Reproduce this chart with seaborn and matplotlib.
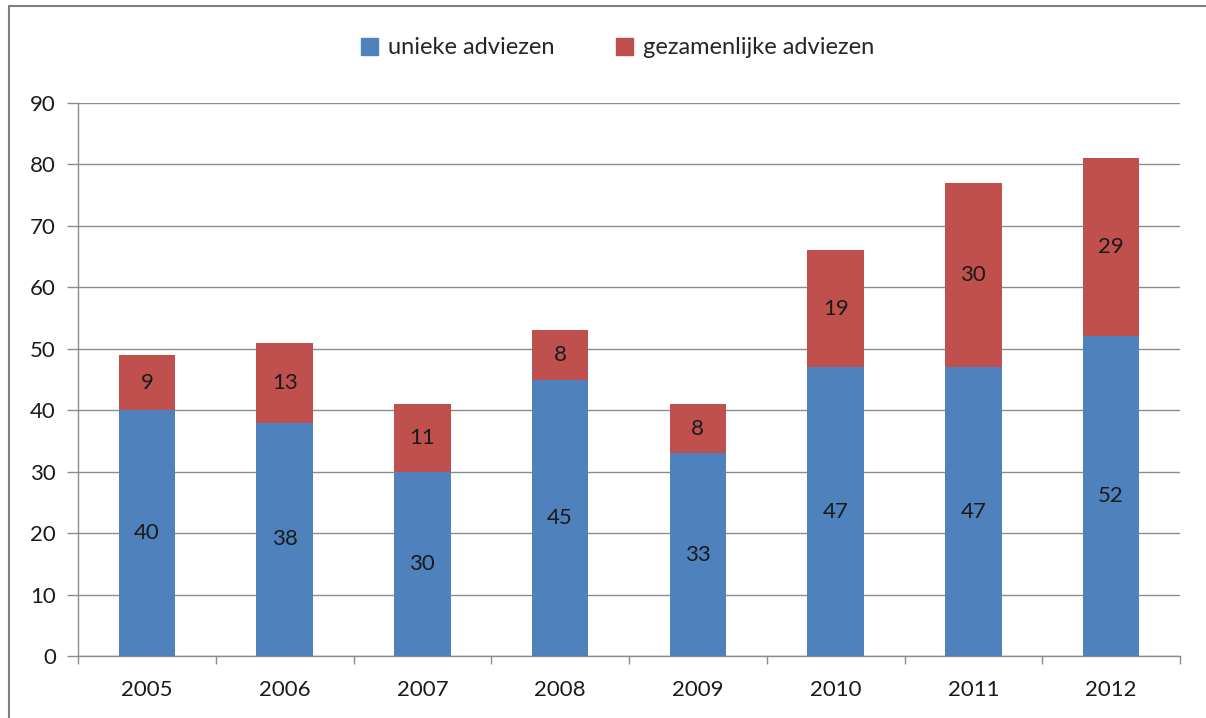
import matplotlib
matplotlib.use("Agg")
import matplotlib.pyplot as plt
import seaborn as sns
import numpy as np
from matplotlib.lines import Line2D
from matplotlib.patches import Patch

years = ["2005", "2006", "2007", "2008", "2009", "2010", "2011", "2012"]
unieke = [40, 38, 30, 45, 33, 47, 47, 52]
gezamenlijke = [9, 13, 11, 8, 8, 19, 30, 29]
series_names = ["unieke adviezen", "gezamenlijke adviezen"]
yticks = [0, 10, 20, 30, 40, 50, 60, 70, 80, 90]

sns.set_theme(style="white")
plt.rcParams['font.family'] = ['Lato', 'DejaVu Sans']

blue = "#4F81BD"
red = "#C0504D"
grid_c = "#8C8C8C"

fig = plt.figure(figsize=(12.06, 7.18), dpi=100)
ax = fig.add_axes([78/1206, 1-656/718, (1180-78)/1206, (656-103)/718])

totals = [u + g for u, g in zip(unieke, gezamenlijke)]
sns.barplot(x=years, y=totals, color=red, saturation=1, width=0.41, ax=ax, zorder=3, linewidth=0)
sns.barplot(x=years, y=unieke, color=blue, saturation=1, width=0.41, ax=ax, zorder=4, linewidth=0)

for i, (u, g) in enumerate(zip(unieke, gezamenlijke)):
    ax.text(i, u / 2, str(u), ha="center", va="center", fontsize=16, color="#1a1a1a", zorder=5)
    ax.text(i, u + g / 2, str(g), ha="center", va="center", fontsize=16, color="#1a1a1a", zorder=5)

ax.set_ylim(0, 90)
ax.set_xlim(-0.5, len(years) - 0.5)
ax.set_yticks(yticks)
ax.set_yticklabels([str(t) for t in yticks], fontsize=16, color="#1a1a1a")
ax.yaxis.grid(True, color=grid_c, linewidth=1.0, zorder=0)
ax.set_axisbelow(True)
ax.tick_params(axis="y", length=8, width=1, color=grid_c, pad=8, left=True)
ax.tick_params(axis="x", which="major", length=0, pad=17, labelsize=16, labelcolor="#1a1a1a")
ax.set_xticks(np.arange(-0.5, len(years), 1.0), minor=True)
ax.tick_params(axis="x", which="minor", length=6, width=1, color=grid_c, bottom=True)
for s in ["top", "right"]:
    ax.spines[s].set_visible(False)
for s in ["left", "bottom"]:
    ax.spines[s].set_color(grid_c)
    ax.spines[s].set_linewidth(1.0)
ax.set_xlabel("")
ax.set_ylabel("")

handles = [Patch(facecolor=blue, edgecolor=blue), Patch(facecolor=red, edgecolor=red)]
fig.legend(handles, series_names, loc="center", bbox_to_anchor=(0.512, 1-48/718), ncol=2,
           frameon=False, fontsize=17, handlelength=0.75, handleheight=0.75,
           handletextpad=0.4, columnspacing=2.6)

# outer chart frame
fig.add_artist(Line2D([8.5/1206, 8.5/1206], [0, 1-6/718], transform=fig.transFigure, color="#7F7F7F", linewidth=1.5))
fig.add_artist(Line2D([8.5/1206, 1], [1-6/718, 1-6/718], transform=fig.transFigure, color="#7F7F7F", linewidth=1.5))

fig.savefig("out.png", dpi=100)
